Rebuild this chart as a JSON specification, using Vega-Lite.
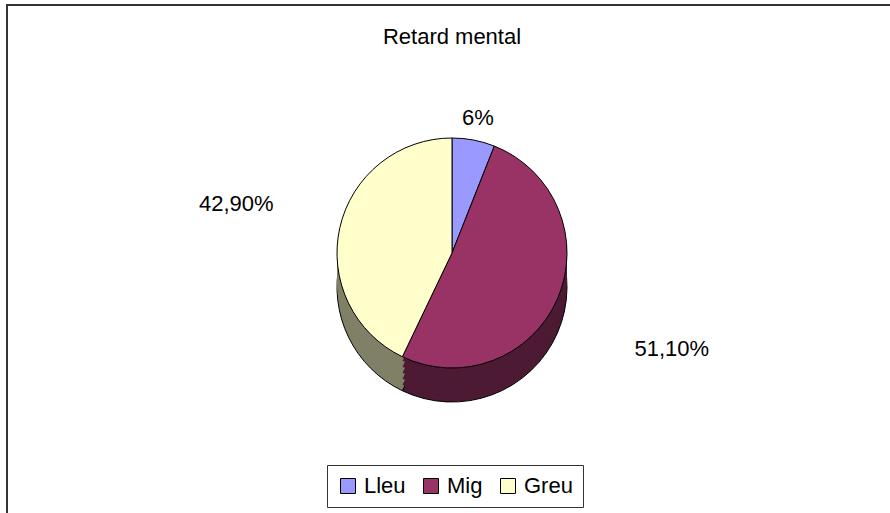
{
  "$schema": "https://vega.github.io/schema/vega-lite/v6.json",
  "width": 890,
  "height": 520,
  "padding": {"left": 7, "top": 5, "right": 0, "bottom": 0},
  "autosize": {"type": "pad"},
  "background": "white",
  "view": {"stroke": "#333", "strokeWidth": 2},
  "config": {"view": {"stroke": "#333", "strokeWidth": 2}, "font": "Liberation Sans"},
  "title": {"text": "Retard mental", "fontSize": 22, "fontWeight": "normal", "font": "Liberation Sans", "color": "black", "offset": -61, "anchor": "middle", "baseline": "alphabetic"},
  "data": {"values": [
    {"cat": "Lleu", "value": 6, "label": "6%", "idx": 1},
    {"cat": "Mig", "value": 51.1, "label": "51,10%", "idx": 2},
    {"cat": "Greu", "value": 42.9, "label": "42,90%", "idx": 3}
  ]},
  "encoding": {
    "theta": {"field": "value", "type": "quantitative", "stack": true},
    "order": {"field": "idx", "type": "quantitative"}
  },
  "resolve": {"scale": {"color": "independent"}},
  "layer": [
    {"mark": {"type": "arc", "radius": 115, "yOffset": 22, "stroke": "black", "strokeWidth": 1},
     "encoding": {"color": {"field": "cat", "type": "nominal", "scale": {"domain": ["Lleu", "Mig", "Greu"], "range": ["#4D4D80", "#4D1A33", "#808066"]}, "legend": null}}},
    {"mark": {"type": "arc", "radius": 115, "yOffset": 16},
     "encoding": {"color": {"field": "cat", "type": "nominal", "scale": {"domain": ["Lleu", "Mig", "Greu"], "range": ["#4D4D80", "#4D1A33", "#808066"]}, "legend": null}}},
    {"mark": {"type": "arc", "radius": 115, "yOffset": 10},
     "encoding": {"color": {"field": "cat", "type": "nominal", "scale": {"domain": ["Lleu", "Mig", "Greu"], "range": ["#4D4D80", "#4D1A33", "#808066"]}, "legend": null}}},
    {"mark": {"type": "arc", "radius": 115, "yOffset": 4},
     "encoding": {"color": {"field": "cat", "type": "nominal", "scale": {"domain": ["Lleu", "Mig", "Greu"], "range": ["#4D4D80", "#4D1A33", "#808066"]}, "legend": null}}},
    {"mark": {"type": "arc", "radius": 115, "yOffset": -2},
     "encoding": {"color": {"field": "cat", "type": "nominal", "scale": {"domain": ["Lleu", "Mig", "Greu"], "range": ["#4D4D80", "#4D1A33", "#808066"]}, "legend": null}}},
    {"mark": {"type": "arc", "radius": 115, "yOffset": -8},
     "encoding": {"color": {"field": "cat", "type": "nominal", "scale": {"domain": ["Lleu", "Mig", "Greu"], "range": ["#4D4D80", "#4D1A33", "#808066"]}, "legend": null}}},
    {"mark": {"type": "arc", "radius": 115, "yOffset": -12, "stroke": "black", "strokeWidth": 1},
     "encoding": {"color": {"field": "cat", "type": "nominal",
        "scale": {"domain": ["Lleu", "Mig", "Greu"], "range": ["#9999FF", "#993366", "#FFFFCC"]},
        "legend": {"orient": "none", "legendX": 320, "legendY": 460, "direction": "horizontal", "title": null,
          "strokeColor": "#333", "fillColor": "white", "padding": 10, "symbolType": "square", "symbolSize": 225,
          "symbolStrokeColor": "black", "symbolStrokeWidth": 1, "labelFontSize": 22, "labelFont": "Liberation Sans",
          "labelColor": "black", "columnPadding": 14, "labelOffset": 5}}}},
    {"mark": {"type": "text", "yOffset": -12, "fontSize": 22, "font": "Liberation Sans", "color": "black"},
     "encoding": {"text": {"field": "label"},
       "radius": {"field": "value", "type": "quantitative", "scale": {"domain": [0, 60], "range": [124, 260], "zero": false}}}}
  ]
}
